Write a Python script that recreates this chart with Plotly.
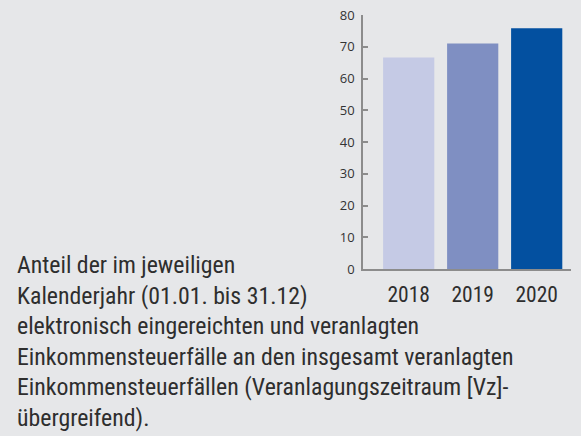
import plotly.graph_objects as go

years = ["2018", "2019", "2020"]
values = [66.6, 71.0, 75.8]
bar_colors = ["#c5cae5", "#7f8fc2", "#0350a0"]
y_ticks = [0, 10, 20, 30, 40, 50, 60, 70, 80]
caption_lines = [
    "Anteil der im jeweiligen",
    "Kalenderjahr (01.01. bis 31.12)",
    "elektronisch eingereichten und veranlagten",
    "Einkommensteuerfälle an den insgesamt veranlagten",
    "Einkommensteuerfällen (Veranlagungszeitraum [Vz]-",
    "übergreifend).",
]

BG = "#e6e7e9"
AXIS = "#8c8c8c"
TXT = "#2e2e2e"
COND = "Roboto Condensed, Liberation Sans Narrow, sans-serif"

W, H = 581, 436
ml, mr, mt, mb = 363, 10, 15, 167

fig = go.Figure(go.Bar(
    x=years, y=values, marker=dict(color=bar_colors, line=dict(width=0)),
    hoverinfo="x+y",
))

fig.update_layout(
    width=W, height=H,
    margin=dict(l=ml, r=mr, t=mt, b=mb, pad=0),
    paper_bgcolor=BG, plot_bgcolor=BG,
    bargap=0.2, showlegend=False,
)
fig.update_xaxes(
    type="category", range=[-0.714, 2.536], automargin=False,
    showline=True, linecolor=AXIS, linewidth=1.5,
    ticks="", showgrid=False, zeroline=False,
    tickfont=dict(family=COND, size=21.5, color=TXT),
    ticklabelstandoff=5,
)
fig.update_yaxes(
    range=[0, 80], tickvals=y_ticks, automargin=False,
    showline=True, linecolor=AXIS, linewidth=1.5,
    ticks="inside", ticklen=5, tickcolor=AXIS, tickwidth=1.5,
    showgrid=False, zeroline=False,
    tickfont=dict(family="Open Sans, sans-serif", size=13, color="#333333"),
    ticklabelstandoff=4,
)

# caption, one annotation per line
line_top = 250   # pixel top of first line box
spacing = 30.5
for i, t in enumerate(caption_lines):
    ypix = line_top + i * spacing
    fig.add_annotation(
        text=t, showarrow=False, xref="paper", yref="paper",
        x=(16 - ml) / (W - ml - mr), xanchor="left",
        y=1 - (ypix - mt) / (H - mt - mb), yanchor="top",
        font=dict(family=COND, size=23.8, color=TXT),
        align="left", borderpad=0,
    )

fig.write_html(
    "out.html",
    config={"displayModeBar": False},
    post_script="document.body.style.margin='0';document.body.style.overflow='hidden';",
)
